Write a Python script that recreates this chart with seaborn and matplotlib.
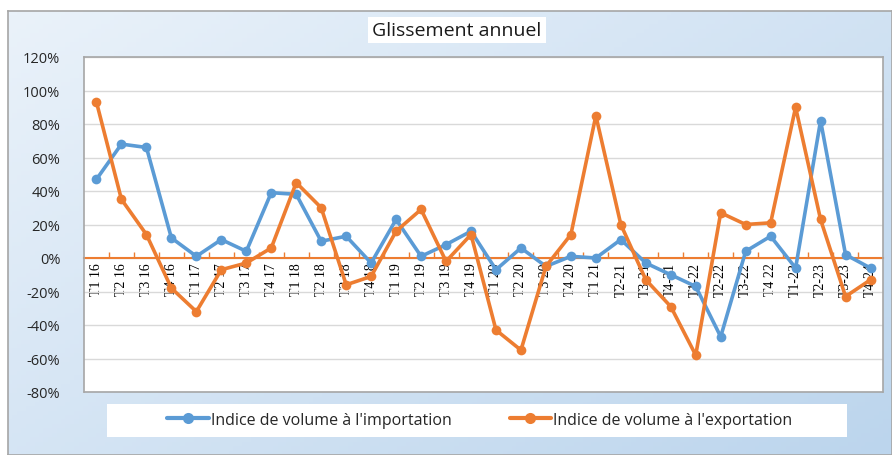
import numpy as np
import pandas as pd
import matplotlib
matplotlib.use("Agg")
import matplotlib.pyplot as plt
import seaborn as sns
from matplotlib.ticker import PercentFormatter, FixedLocator
from matplotlib.patches import Rectangle

#%% DATA
trimestres = ["T1 16", "T2 16", "T3 16", "T4 16", "T1 17", "T2 17", "T3 17", "T4 17",
              "T1 18", "T2 18", "T3 18", "T4 18", "T1 19", "T2 19", "T3 19", "T4 19",
              "T1 20", "T2 20", "T3 20", "T4 20", "T1 21", "T2-21", "T3-21", "T4-21",
              "T1-22", "T2-22", "T3-22", "T4 22", "T1-23", "T2-23", "T3-23", "T4-24"]

importation = [47, 68, 66, 12, 1, 11, 4, 39,
               38, 10, 13, -3, 23, 1, 8, 16,
               -7, 6, -5, 1, 0, 11, -3, -10,
               -17, -47, 4, 13, -6, 82, 2, -6]

exportation = [93, 35, 14, -18, -32, -7, -3, 6,
               45, 30, -16, -11, 16, 29, -2, 14,
               -43, -55, -5, 14, 85, 20, -13, -29,
               -58, 27, 20, 21, 90, 23, -23, -13]

lbl_imp = "Indice de volume à l'importation"
lbl_exp = "Indice de volume à l'exportation"

BLUE = "#5B9BD5"
ORANGE = "#ED7D31"

df = pd.DataFrame({
    "trimestre": trimestres * 2,
    "valeur": importation + exportation,
    "serie": [lbl_imp] * len(trimestres) + [lbl_exp] * len(trimestres),
})

#%% FIGURE
sns.set_theme(style="white")
plt.rcParams["font.family"] = ["Open Sans", "DejaVu Sans"]
plt.rcParams["axes.unicode_minus"] = False

fig = plt.figure(figsize=(8.92, 4.56), dpi=100)
fig.patch.set_facecolor("white")

# gradient background of the chart area
bg = fig.add_axes([8 / 892, 0, 884 / 892, 444 / 456], zorder=-10)
gx, gy = np.meshgrid(np.linspace(0, 1, 200), np.linspace(0, 1, 100))
grad = 0.55 * gx + 0.45 * gy
bg.imshow(grad, cmap=matplotlib.colors.LinearSegmentedColormap.from_list(
    "bgc", ["#eaf2fa", "#bcd5ed"]), aspect="auto", extent=[0, 1, 0, 1], origin="upper")
bg.set_xticks([])
bg.set_yticks([])
for s in bg.spines.values():
    s.set_color("#a6a6a6")
    s.set_linewidth(1.2)

ax = fig.add_axes([84 / 892, 1 - 393 / 456, 799 / 892, 335 / 456])
ax.set_facecolor("white")

sns.lineplot(data=df, x="trimestre", y="valeur", hue="serie", sort=False,
             palette=[BLUE, ORANGE], marker="o", markersize=7, markeredgewidth=0,
             linewidth=2.6, ax=ax, legend=True, zorder=3)

ax.set_xlim(-0.5, len(trimestres) - 0.5)
ax.set_ylim(-80, 120)
ax.set_yticks(range(-80, 121, 20))
ax.yaxis.set_major_formatter(PercentFormatter(decimals=0))
ax.grid(axis="y", color="#d9d9d9", linewidth=1)
ax.set_xlabel("")
ax.set_ylabel("")

for side in ["left", "right", "top"]:
    ax.spines[side].set_color("#a6a6a6")
    ax.spines[side].set_linewidth(1.2)
ax.spines["bottom"].set_position(("data", 0))
ax.spines["bottom"].set_color(ORANGE)
ax.spines["bottom"].set_linewidth(1.5)
ax.spines["bottom"].set_zorder(2)
ax.plot([0, 1], [0, 0], transform=ax.transAxes, color="#a6a6a6", lw=1.2, clip_on=False)

ax.set_xticks(range(len(trimestres)))
ax.set_xticklabels(trimestres, rotation=90, family="Liberation Serif", fontsize=10)
ax.xaxis.set_minor_locator(FixedLocator(np.arange(0.5, len(trimestres) - 1, 1)))
ax.tick_params(axis="x", which="major", length=0, pad=3, colors="black")
ax.tick_params(axis="x", which="minor", length=4, width=1, color=ORANGE, direction="in", bottom=True)
ax.tick_params(axis="y", length=0, labelsize=10.5, pad=17, colors="#262626")

# legend box
handles, labels = ax.get_legend_handles_labels()
ax.get_legend().remove()
fig.patches.append(Rectangle((107 / 892, 1 - 438 / 456), 740 / 892, 33 / 456,
                             transform=fig.transFigure, facecolor="white",
                             edgecolor="none", zorder=1))
leg = fig.legend(handles, labels, loc="center", bbox_to_anchor=(480 / 892, 1 - 421 / 456),
                 ncol=2, frameon=False, fontsize=11.5, handlelength=2.6,
                 handletextpad=0.15, columnspacing=3.6)
for h in leg.legend_handles:
    h.set_linewidth(3)
    h.set_markersize(8)
for t in leg.get_texts():
    t.set_color("#262626")

# title box
fig.text(457 / 892, 1 - 31 / 456, "Glissement annuel", ha="center", va="center",
         fontsize=14, color="#1a1a1a",
         bbox=dict(facecolor="white", edgecolor="none", pad=3))

fig.savefig("out.png", dpi=100)
